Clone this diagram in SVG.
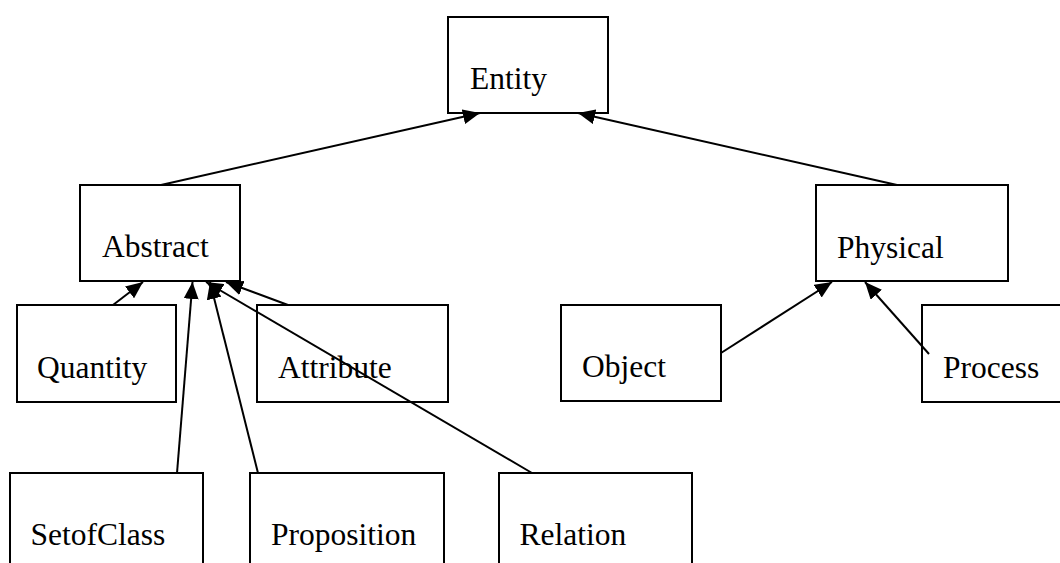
<svg xmlns="http://www.w3.org/2000/svg" width="1060" height="563" viewBox="0 0 1060 563">
  <style>
    .box { fill: none; stroke: #000000; stroke-width: 2; }
    .lbl { font-family: "Liberation Serif", "Times New Roman", serif; font-size: 31.5px; fill: #000000; }
    .edge { stroke: #000000; stroke-width: 2; fill: none; marker-end: url(#arrow); }
  </style>
  <defs>
    <marker id="arrow" markerUnits="userSpaceOnUse" markerWidth="17" markerHeight="15" viewBox="0 0 17 15" refX="17" refY="7.5" orient="auto">
      <path d="M0,0 L17,7.5 L0,15 z" fill="#000000"/>
    </marker>
  </defs>

  <rect width="1060" height="563" fill="#ffffff"/>

  <g id="entity">
    <rect class="box" x="448" y="17" width="160" height="96"/>
    <text class="lbl" x="470" y="89">Entity</text>
  </g>
  <g id="abstract">
    <rect class="box" x="80" y="185" width="160" height="96"/>
    <text class="lbl" x="102" y="257">Abstract</text>
  </g>
  <g id="physical">
    <rect class="box" x="816" y="185" width="192" height="96"/>
    <text class="lbl" x="837" y="258">Physical</text>
  </g>
  <g id="quantity">
    <rect class="box" x="17" y="305" width="159" height="97"/>
    <text class="lbl" x="37" y="378">Quantity</text>
  </g>
  <g id="attribute">
    <rect class="box" x="257" y="305" width="191" height="97"/>
    <text class="lbl" x="278" y="378">Attribute</text>
  </g>
  <g id="object">
    <rect class="box" x="561" y="305" width="160" height="96"/>
    <text class="lbl" x="582" y="377">Object</text>
  </g>
  <g id="process">
    <rect class="box" x="922" y="305" width="160" height="97"/>
    <text class="lbl" x="943" y="378">Process</text>
  </g>
  <g id="setofclass">
    <rect class="box" x="10" y="473" width="193" height="130"/>
    <text class="lbl" x="30.5" y="545">SetofClass</text>
  </g>
  <g id="proposition">
    <rect class="box" x="250" y="473" width="194" height="130"/>
    <text class="lbl" x="271" y="545">Proposition</text>
  </g>
  <g id="relation">
    <rect class="box" x="499" y="473" width="193" height="130"/>
    <text class="lbl" x="519.5" y="545">Relation</text>
  </g>

  <!-- connectors: child points to parent, drawn over the boxes -->
  <g id="connectors">
    <line class="edge" x1="161" y1="185" x2="480" y2="113"/>
    <line class="edge" x1="897" y1="185" x2="578" y2="113"/>
    <line class="edge" x1="113" y1="305" x2="143" y2="282"/>
    <line class="edge" x1="288" y1="305" x2="226" y2="282"/>
    <line class="edge" x1="177" y1="473" x2="192.5" y2="282"/>
    <line class="edge" x1="258" y1="473" x2="210" y2="282"/>
    <line class="edge" x1="532" y1="473" x2="206" y2="282"/>
    <line class="edge" x1="721" y1="353" x2="832" y2="282"/>
    <line class="edge" x1="929" y1="354" x2="865" y2="282"/>
  </g>
</svg>
